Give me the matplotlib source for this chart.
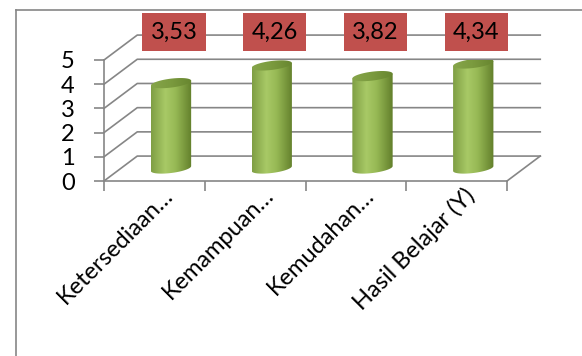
import numpy as np
import matplotlib.pyplot as plt
from matplotlib.path import Path
from matplotlib.patches import PathPatch
from matplotlib.colors import LinearSegmentedColormap
from matplotlib.lines import Line2D

plt.rcParams['font.family'] = ['Lato', 'DejaVu Sans']

# data
categories = ['Ketersediaan…', 'Kemampuan…', 'Kemudahan…', 'Hasil Belajar (Y)']
values = [3.53, 4.26, 3.82, 4.34]
value_labels = ['3,53', '4,26', '3,82', '4,34']
yticks = [0, 1, 2, 3, 4, 5]

W, H = 582, 356
GRID = '#868686'
FS = 17
dx, dy = 0.33, 1.03          # depth offset of the back wall (data units)
cw, eh, shear = 0.40, 0.37, 0.10   # cylinder width, ellipse height, tilt

fig = plt.figure(figsize=(W / 100, H / 100), dpi=100)
ax = fig.add_axes([104 / W, 1 - 181 / H, 403 / W, 121 / H])
ax.set_facecolor('none')

# outer chart frame (left + top only visible)
fig.add_artist(Line2D([16 / W, 16 / W], [0, 1 - 10 / H], color=GRID, lw=1.2))
fig.add_artist(Line2D([16 / W, 1], [1 - 10 / H, 1 - 10 / H], color=GRID, lw=1.2))

# back wall grid + side wall diagonals
x0, x1 = -0.5, len(categories) - 0.5
for v in yticks:
    ax.plot([x0, x0 + dx, x1 + dx], [v, v + dy, v + dy], color=GRID, lw=1.2,
            clip_on=False, zorder=1)
ax.plot([x1, x1 + dx], [0, dy], color=GRID, lw=1.2, clip_on=False, zorder=1)

cmap_body = LinearSegmentedColormap.from_list(
    'body', [(0, '#7f9e44'), (0.35, '#a8c966'), (0.6, '#97b955'), (1, '#627f2b')])
cmap_top = LinearSegmentedColormap.from_list(
    'top', [(0, '#86a54a'), (0.5, '#7a9a3e'), (1, '#67852f')])

t = np.linspace(0, np.pi, 40)
grad = np.linspace(0, 1, 200).reshape(1, -1)

for i, v in enumerate(values):
    cx = i + dx / 2
    yb = dy / 2
    yt = v + dy / 2
    # body: left side down, bottom half-ellipse, right side up, top back
    bx = cx - cw / 2 * np.cos(t)
    by = yb - eh / 2 * np.sin(t) - shear * np.cos(t)
    verts = [(cx - cw / 2, yt - shear)] + list(zip(bx, by)) + [(cx + cw / 2, yt + shear)]
    verts.append(verts[0])
    body = PathPatch(Path(verts), facecolor='none', edgecolor='none')
    ax.add_patch(body)
    im = ax.imshow(grad, cmap=cmap_body, extent=(cx - cw / 2, cx + cw / 2, yb - 1, yt + 1),
                   aspect='auto', zorder=3, interpolation='bilinear')
    im.set_clip_path(body)
    # top ellipse
    tt = np.linspace(0, 2 * np.pi, 80)
    ex = cx + cw / 2 * np.cos(tt)
    ey = yt + eh / 2 * np.sin(tt) + shear * np.cos(tt)
    top = PathPatch(Path(list(zip(ex, ey))), facecolor='none', edgecolor='none')
    ax.add_patch(top)
    im2 = ax.imshow(grad, cmap=cmap_top, extent=(cx - cw / 2, cx + cw / 2, yt - 1, yt + 1),
                    aspect='auto', zorder=4, interpolation='bilinear')
    im2.set_clip_path(top)
    # value label box
    ax.text(cx + 0.03, 6.15, value_labels[i], ha='center', va='center', fontsize=FS,
            color='black', clip_on=False, zorder=6,
            bbox=dict(boxstyle='square,pad=0.36', facecolor='#c0504d', edgecolor='none'))
    # category label
    ax.text(i + 0.15, -0.45, categories[i], ha='right', va='center', rotation=45,
            rotation_mode='anchor', fontsize=FS, color='black', clip_on=False)

ax.set_xlim(x0, x1)
ax.set_ylim(0, 5)

for s in ['top', 'right']:
    ax.spines[s].set_visible(False)
for s in ['left', 'bottom']:
    ax.spines[s].set_color(GRID)
    ax.spines[s].set_linewidth(1.2)
ax.set_yticks(yticks)
ax.set_yticklabels([str(v) for v in yticks], fontsize=FS)
ax.set_xticks(np.arange(x0, x1 + 0.01, 1.0))
ax.set_xticklabels([])
ax.tick_params(axis='both', color=GRID, width=1.2, length=7, direction='out')
ax.tick_params(axis='y', pad=14)

fig.savefig('out.png', dpi=100)
